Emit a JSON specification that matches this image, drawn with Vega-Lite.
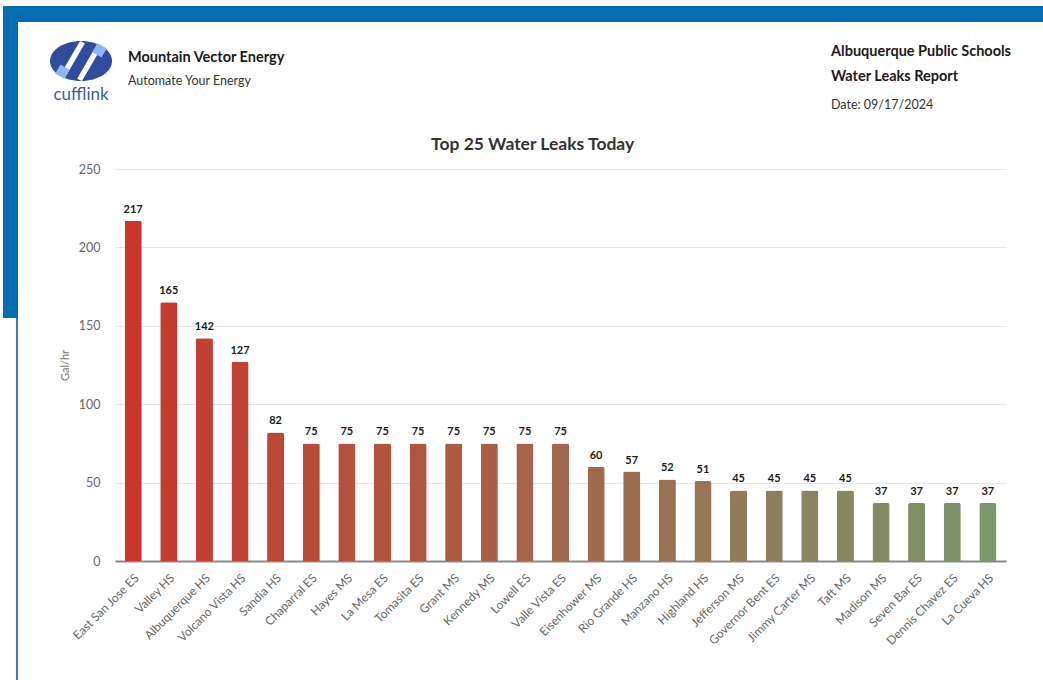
{
  "$schema": "https://vega.github.io/schema/vega-lite/v6.json",
  "padding": {"left": 3, "top": 6, "right": 0, "bottom": 0},
  "background": "white",
  "spacing": 0,
  "config": {"view": {"stroke": null}, "font": "Lato"},
  "resolve": {"scale": {"color": "independent", "shape": "independent"}},
  "vconcat": [
    {"width": 1040, "height": 16, "view": {"fill": "#046cb2", "stroke": null}, "data": {"values": []}, "mark": "rect", "encoding": {}},
    {
      "spacing": 32,
      "resolve": {"scale": {"color": "independent", "shape": "independent"}},
      "hconcat": [
        {
          "spacing": 0,
          "vconcat": [
            {"width": 15, "height": 296, "view": {"fill": "#046cb2", "stroke": null}, "data": {"values": []}, "mark": "rect", "encoding": {}},
            {
              "spacing": 0,
              "hconcat": [
                {"width": 13, "height": 362, "data": {"values": []}, "mark": "rect", "encoding": {}},
                {"width": 2, "height": 362, "view": {"fill": "#2f80c0", "stroke": null}, "data": {"values": []}, "mark": "rect", "encoding": {}}
              ]
            }
          ]
        },
        {
          "spacing": 0,
          "resolve": {"scale": {"color": "independent", "shape": "independent"}},
          "vconcat": [
            {"width": 1, "height": 19, "data": {"values": []}, "mark": "rect", "encoding": {}},
            {
              "spacing": 16,
              "resolve": {"scale": {"color": "independent", "shape": "independent"}},
              "hconcat": [
                {
                  "width": 62, "height": 40,
                  "title": {"text": "cufflink", "orient": "bottom", "anchor": "middle", "fontSize": 17, "fontWeight": "normal", "color": "#3d5ba0", "offset": 6},
                  "data": {"values": [{"part": "ring"}, {"part": "stripe1"}, {"part": "stripe2"}, {"part": "accent1"}, {"part": "accent2"}]},
                  "mark": {"type": "point", "filled": true, "opacity": 1, "size": 3844, "strokeWidth": 0},
                  "encoding": {
                    "shape": {"field": "part", "type": "nominal", "legend": null, "scale": {"domain": ["ring", "stripe1", "stripe2", "accent1", "accent2"], "range": [
                      "M-1,0A1,0.645 0 1 1 1,0A1,0.645 0 1 1 -1,0Z",
                      "M0.125,-0.575L-0.03,-0.645L-0.71,0.513L-0.555,0.603Z",
                      "M0.71,-0.513L0.555,-0.603L-0.125,0.575L0.03,0.645Z",
                      "M0.83,-0.40L0.54,-0.57L0.37,-0.28L0.66,-0.11Z",
                      "M-0.37,0.28L-0.66,0.11L-0.83,0.40L-0.54,0.57Z"
                    ]}},
                    "color": {"field": "part", "type": "nominal", "legend": null, "scale": {"domain": ["ring", "stripe1", "stripe2", "accent1", "accent2"], "range": ["#2f4d9c", "#ffffff", "#ffffff", "#8db6f2", "#8db6f2"]}}
                  }
                },
                {
                  "width": 687, "height": 1,
                  "title": {"text": "Mountain Vector Energy", "subtitle": "Automate Your Energy", "orient": "bottom", "anchor": "start", "fontSize": 14.5, "fontWeight": "bold", "color": "#1a1a1a", "subtitleFontSize": 12.5, "subtitleColor": "#333333", "subtitlePadding": 9, "offset": 9},
                  "data": {"values": []}, "mark": "rect", "encoding": {}
                },
                {
                  "width": 1, "height": 1,
                  "title": {"text": ["Albuquerque Public Schools", "Water Leaks Report"], "lineHeight": 25, "subtitle": "Date: 09/17/2024", "orient": "bottom", "anchor": "start", "fontSize": 14.5, "fontWeight": "bold", "color": "#1a1a1a", "subtitleFontSize": 12.5, "subtitleColor": "#333333", "subtitlePadding": 14, "offset": 3},
                  "data": {"values": []}, "mark": "rect", "encoding": {}
                }
              ]
            },
            {"width": 1, "height": 24, "data": {"values": []}, "mark": "rect", "encoding": {}},
            {
              "spacing": 0,
              "hconcat": [
                {"width": 9, "height": 1, "data": {"values": []}, "mark": "rect", "encoding": {}},
                {
                  "width": 891, "height": 392,
                  "title": {"text": "Top 25 Water Leaks Today", "fontSize": 17.5, "fontWeight": "bold", "color": "#333333", "anchor": "middle", "frame": "bounds", "offset": 10},
                  "data": {"values": [
                    {"School": "East San Jose ES", "Leak": 217},
                    {"School": "Valley HS", "Leak": 165},
                    {"School": "Albuquerque HS", "Leak": 142},
                    {"School": "Volcano Vista HS", "Leak": 127},
                    {"School": "Sandia HS", "Leak": 82},
                    {"School": "Chaparral ES", "Leak": 75},
                    {"School": "Hayes MS", "Leak": 75},
                    {"School": "La Mesa ES", "Leak": 75},
                    {"School": "Tomasita ES", "Leak": 75},
                    {"School": "Grant MS", "Leak": 75},
                    {"School": "Kennedy MS", "Leak": 75},
                    {"School": "Lowell ES", "Leak": 75},
                    {"School": "Valle Vista ES", "Leak": 75},
                    {"School": "Eisenhower MS", "Leak": 60},
                    {"School": "Rio Grande HS", "Leak": 57},
                    {"School": "Manzano HS", "Leak": 52},
                    {"School": "Highland HS", "Leak": 51},
                    {"School": "Jefferson MS", "Leak": 45},
                    {"School": "Governor Bent ES", "Leak": 45},
                    {"School": "Jimmy Carter MS", "Leak": 45},
                    {"School": "Taft MS", "Leak": 45},
                    {"School": "Madison MS", "Leak": 37},
                    {"School": "Seven Bar ES", "Leak": 37},
                    {"School": "Dennis Chavez ES", "Leak": 37},
                    {"School": "La Cueva HS", "Leak": 37}
                  ]},
                  "encoding": {
                    "x": {"field": "School", "type": "nominal", "sort": null, "scale": {"paddingInner": 0.52, "paddingOuter": 0.27},
                      "axis": {"title": null, "labelAngle": -45, "domainColor": "#888888", "domainWidth": 2, "ticks": false, "labelFontSize": 12, "labelColor": "#666666", "labelPadding": 11}},
                    "y": {"field": "Leak", "type": "quantitative", "scale": {"domain": [0, 250], "nice": false},
                      "axis": {"title": "Gal/hr", "values": [0, 50, 100, 150, 200, 250], "grid": true, "gridColor": "#e8e8e8", "domain": false, "ticks": false, "labelPadding": 15, "labelFontSize": 12.5, "labelColor": "#666666", "titleFontSize": 11, "titleColor": "#777777", "titleFontWeight": "normal", "titlePadding": 8}}
                  },
                  "layer": [
                    {"mark": {"type": "bar", "cornerRadiusTopLeft": 2, "cornerRadiusTopRight": 2},
                     "encoding": {"color": {"field": "School", "type": "nominal", "sort": null, "legend": null, "scale": {"range": [
                       "#c9372c", "#c63b2f", "#c23f31", "#bf4334", "#bc4737", "#b94b39", "#b64f3c", "#b2533e", "#af5741", "#ac5b44",
                       "#a85f46", "#a56349", "#a2664c", "#9f6a4e", "#9c6e51", "#987253", "#957656", "#927a59", "#8e7e5b", "#8b825e",
                       "#888660", "#858a63", "#828e66", "#7e9268", "#7b966b"]}}}},
                    {"mark": {"type": "text", "dy": -6, "baseline": "bottom", "fontSize": 11, "fontWeight": "bold", "color": "#1a1a1a"},
                     "encoding": {"text": {"field": "Leak", "type": "quantitative"}}}
                  ]
                }
              ]
            }
          ]
        }
      ]
    }
  ]
}
